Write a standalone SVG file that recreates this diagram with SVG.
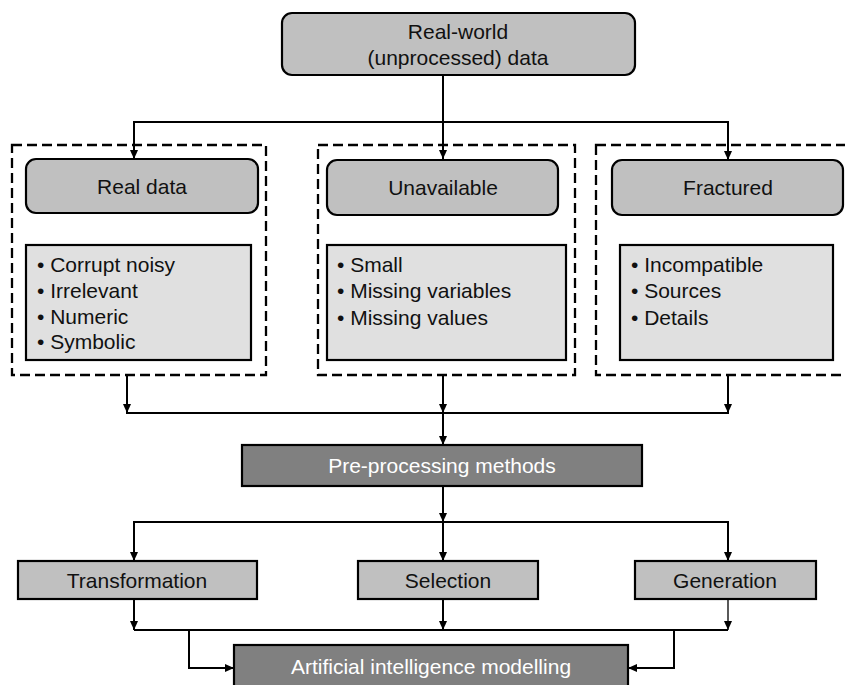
<svg xmlns="http://www.w3.org/2000/svg" width="845" height="685" viewBox="0 0 845 685">
  <defs>
    <marker id="arrow" markerWidth="9" markerHeight="8" refX="9" refY="4" orient="auto" markerUnits="userSpaceOnUse">
      <path d="M0,0 L9,4 L0,8 z" fill="#000"/>
    </marker>
    <style>
      text { font-family: "Liberation Sans", Arial, Helvetica, sans-serif; font-size: 21px; fill: #111; }
      .c { text-anchor: middle; }
      .w { fill: #fff; }
      .group { fill: none; stroke: #000; stroke-width: 2.3; stroke-dasharray: 10 5; }
      .source { fill: #c0c0c0; stroke: #000; stroke-width: 2.2; }
      .list { fill: #e0e0e0; stroke: #000; stroke-width: 2.2; }
      .method { fill: #c0c0c0; stroke: #000; stroke-width: 2.2; }
      .dark { fill: #808080; stroke: #000; stroke-width: 2.2; }
      .wire { fill: none; stroke: #000; stroke-width: 2; }
      .arr { fill: none; stroke: #000; stroke-width: 2; marker-end: url(#arrow); }
    </style>
  </defs>

  <rect width="845" height="685" fill="#fff"/>

  <!-- dashed groupings -->
  <g id="groups">
    <rect class="group" x="12" y="145" width="254" height="230"/>
    <rect class="group" x="318" y="145" width="257" height="230"/>
    <rect class="group" x="596" y="145" width="270" height="230"/>
  </g>

  <!-- connectors -->
  <g id="connectors">
    <!-- raw data fan-out -->
    <line class="arr" x1="443" y1="75" x2="443" y2="159"/>
    <line class="wire" x1="134" y1="122" x2="728" y2="122"/>
    <line class="arr" x1="134" y1="121" x2="134" y2="159"/>
    <line class="arr" x1="728" y1="121" x2="728" y2="160"/>
    <!-- gather into pre-processing -->
    <line class="arr" x1="127" y1="375" x2="127" y2="413"/>
    <line class="arr" x1="443" y1="375" x2="443" y2="413"/>
    <line class="arr" x1="728" y1="375" x2="728" y2="413"/>
    <line class="wire" x1="126" y1="413" x2="729" y2="413"/>
    <line class="arr" x1="443" y1="413" x2="443" y2="445"/>
    <!-- fan-out to methods -->
    <line class="arr" x1="443" y1="486" x2="443" y2="522"/>
    <line class="wire" x1="134" y1="522" x2="728" y2="522"/>
    <line class="arr" x1="134" y1="521" x2="134" y2="561"/>
    <line class="arr" x1="443" y1="522" x2="443" y2="561"/>
    <line class="arr" x1="728" y1="521" x2="728" y2="561"/>
    <!-- gather into modelling -->
    <line class="arr" x1="134" y1="599" x2="134" y2="630"/>
    <line class="arr" x1="443" y1="599" x2="443" y2="630"/>
    <line class="arr" x1="728" y1="599" x2="728" y2="630" style="stroke-width:1.3"/>
    <line class="wire" x1="134" y1="630" x2="728" y2="630"/>
    <polyline class="arr" points="189,630 189,668 234,668"/>
    <polyline class="arr" points="674,630 674,668 628,668"/>
  </g>

  <g id="raw-data">
    <rect class="source" x="282" y="13" width="353" height="62" rx="10"/>
    <text class="c" x="458" y="39">Real-world</text>
    <text class="c" x="458" y="65">(unprocessed) data</text>
  </g>

  <g id="real-data">
    <rect class="source" x="26" y="159" width="232" height="54" rx="10"/>
    <text class="c" x="142" y="194">Real data</text>
  </g>
  <g id="real-data-list">
    <rect class="list" x="26" y="245" width="225" height="115"/>
    <text x="37" y="272">• Corrupt noisy</text>
    <text x="37" y="298">• Irrelevant</text>
    <text x="37" y="324">• Numeric</text>
    <text x="37" y="349">• Symbolic</text>
  </g>

  <g id="unavailable">
    <rect class="source" x="327" y="160" width="231" height="55" rx="10"/>
    <text class="c" x="443" y="195">Unavailable</text>
  </g>
  <g id="unavailable-list">
    <rect class="list" x="327" y="245" width="239" height="115"/>
    <text x="337" y="272">• Small</text>
    <text x="337" y="298">• Missing variables</text>
    <text x="337" y="325">• Missing values</text>
  </g>

  <g id="fractured">
    <rect class="source" x="612" y="160" width="231" height="55" rx="10"/>
    <text class="c" x="728" y="195">Fractured</text>
  </g>
  <g id="fractured-list">
    <rect class="list" x="620" y="245" width="213" height="115"/>
    <text x="631" y="272">• Incompatible</text>
    <text x="631" y="298">• Sources</text>
    <text x="631" y="325">• Details</text>
  </g>

  <g id="pre-processing">
    <rect class="dark" x="242" y="445" width="400" height="41"/>
    <text class="c w" x="442" y="473">Pre-processing methods</text>
  </g>

  <g id="transformation">
    <rect class="method" x="18" y="561" width="239" height="38"/>
    <text class="c" x="137" y="588">Transformation</text>
  </g>
  <g id="selection">
    <rect class="method" x="358" y="561" width="180" height="38"/>
    <text class="c" x="448" y="588">Selection</text>
  </g>
  <g id="generation">
    <rect class="method" x="635" y="561" width="181" height="38"/>
    <text class="c" x="725" y="588">Generation</text>
  </g>

  <g id="ai-modelling">
    <rect class="dark" x="234" y="645" width="394" height="50"/>
    <text class="c w" x="431" y="674">Artificial intelligence modelling</text>
  </g>
</svg>
